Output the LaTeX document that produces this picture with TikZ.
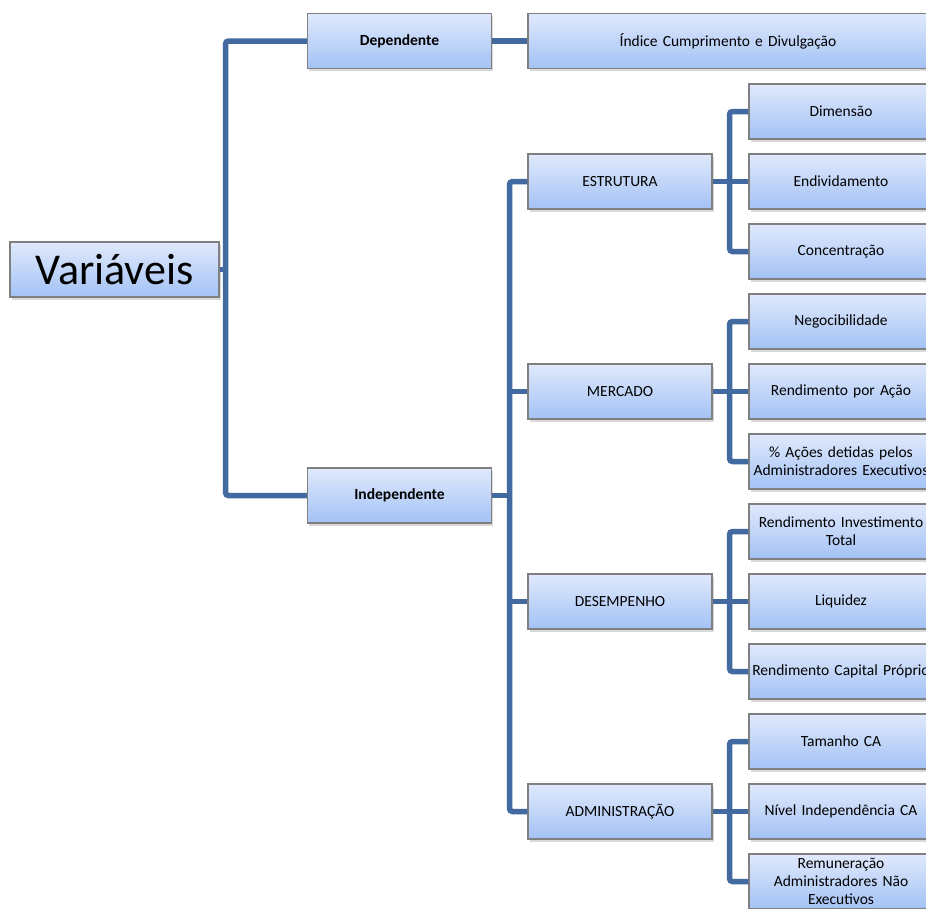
\documentclass[tikz,border=0pt]{standalone}
\usepackage{fontspec}
\setmainfont{Carlito}
\usetikzlibrary{shadows}
\definecolor{linkblue}{RGB}{66,106,160}
\definecolor{boxtop}{RGB}{224,233,252}
\definecolor{boxbot}{RGB}{163,194,245}
\definecolor{boxline}{RGB}{128,128,128}

\begin{document}
\begin{tikzpicture}[x=1pt,y=-1pt,
  box/.style={draw=boxline,line width=1.2pt,top color=boxtop,bottom color=boxbot,
    minimum width=184pt,minimum height=55pt,inner sep=2pt,text width=178pt,align=center,
    font=\fontsize{15.5}{18}\selectfont,
    drop shadow={shadow xshift=1.5pt,shadow yshift=-2.5pt,opacity=0.3}},
  link/.style={draw=linkblue,line width=5.5pt,rounded corners=3pt}]
\useasboundingbox (0,0) rectangle (926,908);

% levels
\coordinate (rt) at (225.5,0);
\coordinate (mt) at (509.5,0);
\coordinate (lt) at (729.5,0);

\node[box,minimum width=209pt,text width=203pt,font=\fontsize{44}{50}\selectfont] (var) at (114.5,269.5) {Variáveis};
\node[box,font=\fontsize{15.5}{18}\selectfont\bfseries] (dep) at (399.5,41) {Dependente};
\node[box,font=\fontsize{15.5}{18}\selectfont\bfseries] (ind) at (399.5,495.5) {Independente};
\node[box,minimum width=400pt,text width=394pt] (idx) at (728,41) {Índice Cumprimento e Divulgação};

\node[box] (estr) at (620,181.5) {ESTRUTURA};
\node[box] (merc) at (620,391.5) {MERCADO};
\node[box] (dese) at (620,601.5) {DESEMPENHO};
\node[box] (admi) at (620,811.5) {ADMINISTRAÇÃO};

\foreach \n/\t [count=\i] in {dim/{Dimensão}, endi/{Endividamento}, conc/{Concentração},
    nego/{Negocibilidade}, rpa/{Rendimento por Ação},
    pac/{\% Ações detidas pelos\\\makebox[0pt]{Administradores Executivos}},
    rit/{Rendimento Investimento\\Total}, liq/{Liquidez},
    rcp/{\makebox[0pt]{Rendimento Capital Próprio}},
    tca/{Tamanho CA}, nica/{Nível Independência CA},
    rem/{Remuneração\\Administradores Não\\Executivos}}
  \node[box] (\n) at (841,41.5+70*\i) {\t};

% connectors
\draw[link] (var.east) -- (var.east -| rt);
\draw[link] (dep.west) -| (var.east -| rt) |- (ind.west);
\draw[link] (dep.east) -- (idx.west);

\draw[link] (ind.east) -- (ind.east -| mt);
\draw[link] (estr.west) -| (ind.east -| mt) |- (admi.west);
\draw[link] (merc.west) -- (merc.west -| mt);
\draw[link] (dese.west) -- (dese.west -| mt);

\foreach \m/\a/\b/\c in {estr/dim/endi/conc, merc/nego/rpa/pac, dese/rit/liq/rcp, admi/tca/nica/rem}{
  \draw[link] (\a.west) -| (\m.east -| lt) |- (\c.west);
  \draw[link] (\m.east) -- (\b.west);
}
\end{tikzpicture}
\end{document}
